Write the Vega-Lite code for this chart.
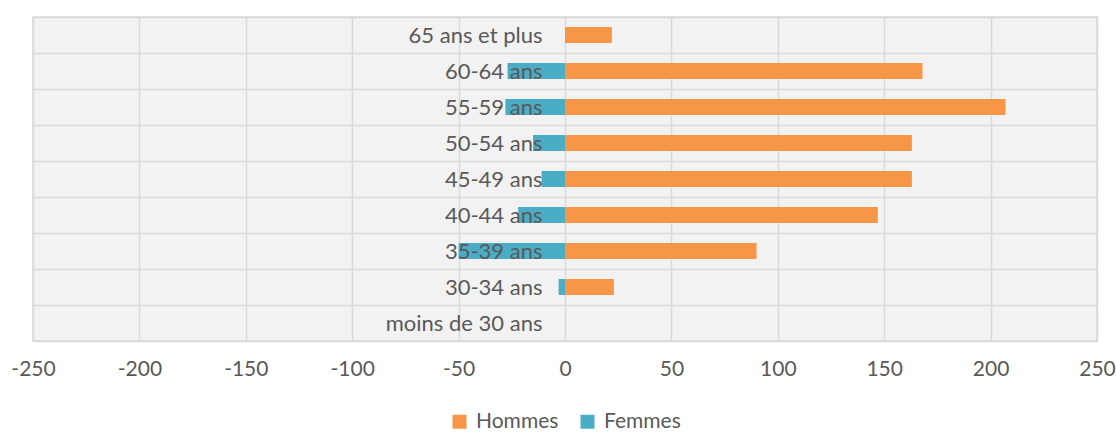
{
  "$schema": "https://vega.github.io/schema/vega-lite/v6.json",
  "autosize": {"type": "none"},
  "padding": {"left": 33, "top": 17, "right": 19, "bottom": 92},
  "width": 1064,
  "height": 324,
  "background": "#ffffff",
  "config": {
    "font": "Lato",
    "view": {"stroke": "#d9d9d9", "strokeWidth": 1.5, "fill": "#f2f2f2"}
  },
  "data": {
    "values": [
      {"age": "65 ans et plus", "sexe": "Hommes", "valeur": 22},
      {"age": "65 ans et plus", "sexe": "Femmes", "valeur": 0},
      {"age": "60-64 ans", "sexe": "Hommes", "valeur": 168},
      {"age": "60-64 ans", "sexe": "Femmes", "valeur": -27},
      {"age": "55-59 ans", "sexe": "Hommes", "valeur": 207},
      {"age": "55-59 ans", "sexe": "Femmes", "valeur": -28},
      {"age": "50-54 ans", "sexe": "Hommes", "valeur": 163},
      {"age": "50-54 ans", "sexe": "Femmes", "valeur": -15},
      {"age": "45-49 ans", "sexe": "Hommes", "valeur": 163},
      {"age": "45-49 ans", "sexe": "Femmes", "valeur": -11},
      {"age": "40-44 ans", "sexe": "Hommes", "valeur": 147},
      {"age": "40-44 ans", "sexe": "Femmes", "valeur": -22},
      {"age": "35-39 ans", "sexe": "Hommes", "valeur": 90},
      {"age": "35-39 ans", "sexe": "Femmes", "valeur": -50},
      {"age": "30-34 ans", "sexe": "Hommes", "valeur": 23},
      {"age": "30-34 ans", "sexe": "Femmes", "valeur": -3},
      {"age": "moins de 30 ans", "sexe": "Hommes", "valeur": 0},
      {"age": "moins de 30 ans", "sexe": "Femmes", "valeur": 0}
    ]
  },
  "mark": {"type": "bar", "height": {"band": 0.444}},
  "encoding": {
    "y": {
      "field": "age",
      "type": "nominal",
      "sort": ["65 ans et plus", "60-64 ans", "55-59 ans", "50-54 ans", "45-49 ans", "40-44 ans", "35-39 ans", "30-34 ans", "moins de 30 ans"],
      "scale": {"paddingInner": 0, "paddingOuter": 0},
      "axis": {
        "title": null,
        "zindex": 1,
        "domain": false,
        "ticks": false,
        "grid": true,
        "gridColor": "#d9d9d9",
        "gridWidth": 1.5,
        "tickBand": "extent",
        "labelPadding": -509,
        "labelFontSize": 22,
        "labelColor": "#595959",
        "labelFont": "Lato"
      }
    },
    "x": {
      "field": "valeur",
      "type": "quantitative",
      "stack": null,
      "scale": {"domain": [-250, 250], "nice": false},
      "axis": {
        "title": null,
        "values": [-250, -200, -150, -100, -50, 0, 50, 100, 150, 200, 250],
        "labelExpr": "replace(datum.label, '−', '-')",
        "domain": false,
        "ticks": false,
        "grid": true,
        "gridColor": "#d9d9d9",
        "gridWidth": 1.5,
        "labelPadding": 17,
        "labelFontSize": 21,
        "labelColor": "#595959",
        "labelFont": "Lato",
        "labelFlush": false
      }
    },
    "color": {
      "field": "sexe",
      "type": "nominal",
      "scale": {"domain": ["Hommes", "Femmes"], "range": ["#F79646", "#4BACC6"]},
      "legend": {
        "title": null,
        "orient": "none",
        "direction": "horizontal",
        "legendX": 416,
        "legendY": 394,
        "symbolType": "square",
        "symbolSize": 196,
        "symbolStrokeWidth": 0,
        "labelFontSize": 21,
        "labelColor": "#595959",
        "labelFont": "Lato",
        "columnPadding": 18,
        "labelOffset": 6
      }
    }
  }
}
